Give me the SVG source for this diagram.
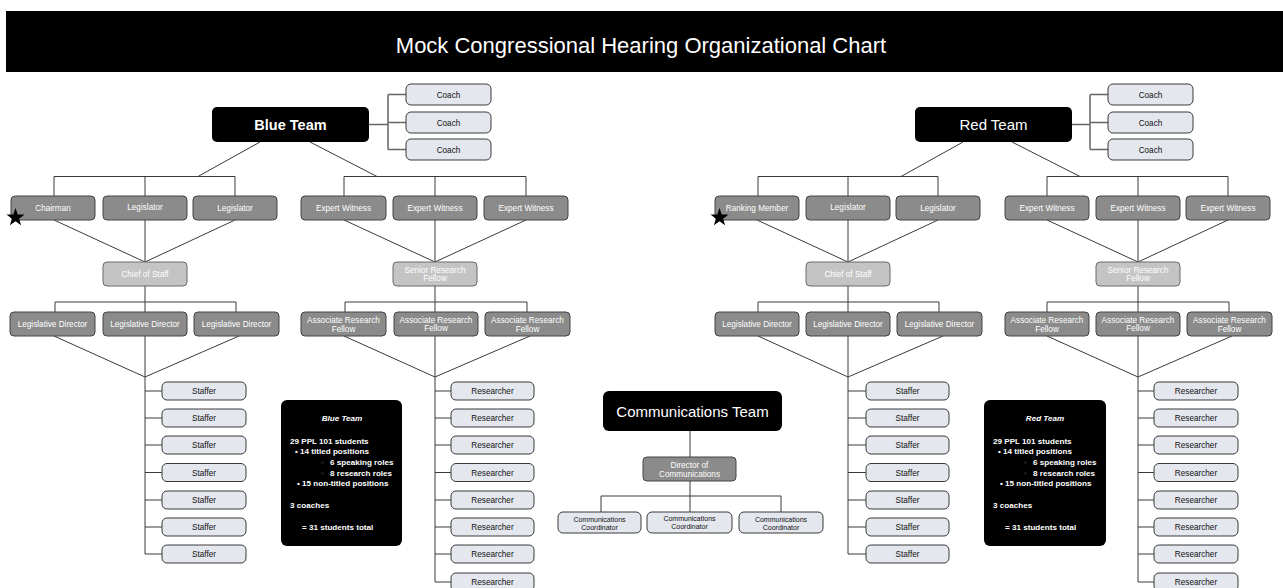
<svg xmlns="http://www.w3.org/2000/svg" xmlns:xlink="http://www.w3.org/1999/xlink" width="1283" height="588" viewBox="0 0 1283 588">
<defs>
<style>
.t{font-family:"Liberation Sans",Arial,sans-serif;font-size:8.2px;text-anchor:middle}
.s{font-family:"Liberation Sans",Arial,sans-serif;font-size:7px;text-anchor:middle;fill:#111}
.w{fill:#fff}
.k{fill:#111}
.dk{fill:#8b8b8b;stroke:#454545;stroke-width:1}
.lt{fill:#c4c4c4;stroke:#6a6a6a;stroke-width:1}
.pl{fill:#e4e7ee;stroke:#3a3a3a;stroke-width:1}
.bk{fill:#000}
.ln{stroke:#3a3a3a;stroke-width:1;fill:none}
.br{stroke:#666;stroke-width:1.5;fill:none}
.it{font-family:"Liberation Sans",Arial,sans-serif;font-size:8.1px;font-weight:bold;fill:#fff}
</style>
<polygon id="star" points="0,-9.5 2.23,-3.07 9.03,-2.94 3.61,1.17 5.59,7.69 0,3.8 -5.59,7.69 -3.61,1.17 -9.03,-2.94 -2.23,-3.07" fill="#000"/>
</defs>
<rect width="1283" height="588" fill="#fff"/>
<g id="title">
<rect x="6" y="11" width="1277" height="61" fill="#000"/>
<text x="641" y="52.5" font-family="Liberation Sans, Arial, sans-serif" font-size="22" fill="#fff" text-anchor="middle">Mock Congressional Hearing Organizational Chart</text>
</g>

<g id="connectors">
<path class="br" d="M369,124.5H388M388,94.5V149.5M388,94.5H406M388,122.5H406M388,149.5H406"/>
<path class="ln" d="M260,142L198,176.5M310,142L377,176.5"/>
<path class="ln" d="M54,176.5H235M54,176.5V196M145,176.5V196M235,176.5V196"/>
<path class="ln" d="M344,176.5H526M344,176.5V196M435,176.5V196M526,176.5V196"/>
<path class="ln" d="M54,220L145,262M145,220V262M235,220L145,262"/>
<path class="ln" d="M344,220L435,262M435,220V262M526,220L435,262"/>
<path class="ln" d="M145,286V302M55,302H236M55,302V312M145,302V312M236,302V312"/>
<path class="ln" d="M435,286V302M345,302H527M345,302V312M435,302V312M527,302V312"/>
<path class="ln" d="M54,336L145,377M239,336L145,377M145,336V554"/>
<path class="ln" d="M344,336L435,377M530,336L435,377M435,336V582"/>
<path class="ln" d="M145,391H162M145,418H162M145,445H162M145,472.5H162M145,500H162M145,527H162M145,554H162"/>
<path class="ln" d="M435,391H451M435,418H451M435,445H451M435,472.5H451M435,500H451M435,527H451M435,554H451M435,582H451"/>
<path class="ln" d="M690,431V457M690,481V496M601,496H781M601,496V512M690,496V512M781,496V512"/>
<path class="br" d="M1072,124.5H1090M1090,94.5V149.5M1090,94.5H1108M1090,122.5H1108M1090,149.5H1108"/>
<path class="ln" d="M963,142L901,176.5M1012,142L1080,176.5"/>
<path class="ln" d="M758,176.5H938M758,176.5V196M848,176.5V196M938,176.5V196"/>
<path class="ln" d="M1047,176.5H1228M1047,176.5V196M1138,176.5V196M1228,176.5V196"/>
<path class="ln" d="M757,220L848,262M848,220V262M938,220L848,262"/>
<path class="ln" d="M1047,220L1138,262M1138,220V262M1228,220L1138,262"/>
<path class="ln" d="M848,286V302M758,302H939M758,302V312M848,302V312M939,302V312"/>
<path class="ln" d="M1138,286V302M1047,302H1229M1047,302V312M1138,302V312M1229,302V312"/>
<path class="ln" d="M758,336L848,377M943,336L848,377M848,336V554"/>
<path class="ln" d="M1047,336L1138,377M1232,336L1138,377M1138,336V582"/>
<path class="ln" d="M848,391H866M848,418H866M848,445H866M848,472.5H866M848,500H866M848,527H866M848,554H866"/>
<path class="ln" d="M1138,391H1154M1138,418H1154M1138,445H1154M1138,472.5H1154M1138,500H1154M1138,527H1154M1138,554H1154M1138,582H1154"/>
</g>

<g id="blue-team"><rect class="bk" x="212" y="107" width="157" height="35" rx="5"/><text x="290.5" y="129.5" font-family="Liberation Sans, Arial, sans-serif" font-size="14.5" font-weight="bold" fill="#fff" text-anchor="middle">Blue Team</text></g>
<g id="blue-coach-1"><rect class="pl" x="406" y="84" width="85" height="21" rx="5"/><text class="t k" x="448.5" y="97.5">Coach</text></g>
<g id="blue-coach-2"><rect class="pl" x="406" y="112" width="85" height="21" rx="5"/><text class="t k" x="448.5" y="125.5">Coach</text></g>
<g id="blue-coach-3"><rect class="pl" x="406" y="139" width="85" height="21" rx="5"/><text class="t k" x="448.5" y="152.5">Coach</text></g>

<g id="blue-chairman"><rect class="dk" x="11" y="196" width="84" height="24" rx="4"/><text class="t w" x="53" y="211">Chairman</text><use xlink:href="#star" x="15.5" y="217.5"/></g>
<g id="blue-legislator-1"><rect class="dk" x="103" y="196" width="84" height="24" rx="4"/><text class="t w" x="145" y="210">Legislator</text></g>
<g id="blue-legislator-2"><rect class="dk" x="193" y="196" width="84" height="24" rx="4"/><text class="t w" x="235" y="210.5">Legislator</text></g>
<g id="blue-expert-1"><rect class="dk" x="301" y="196" width="85" height="24" rx="4"/><text class="t w" x="343.5" y="211">Expert Witness</text></g>
<g id="blue-expert-2"><rect class="dk" x="393" y="196" width="84" height="24" rx="4"/><text class="t w" x="435" y="210.5">Expert Witness</text></g>
<g id="blue-expert-3"><rect class="dk" x="484" y="196" width="84" height="24" rx="4"/><text class="t w" x="526" y="211">Expert Witness</text></g>

<g id="blue-chief-of-staff"><rect class="lt" x="103" y="262" width="84" height="24" rx="4"/><text class="t w" x="145" y="277">Chief of Staff</text></g>
<g id="blue-senior-fellow"><rect class="lt" x="393" y="262" width="84" height="24" rx="4"/><text class="t w" x="435" y="272.5">Senior Research</text><text class="t w" x="435" y="281">Fellow</text></g>

<g id="blue-ld-1"><rect class="dk" x="10" y="312" width="85" height="24" rx="4"/><text class="t w" x="52.5" y="327">Legislative Director</text></g>
<g id="blue-ld-2"><rect class="dk" x="103" y="312" width="84" height="24" rx="4"/><text class="t w" x="145" y="327">Legislative Director</text></g>
<g id="blue-ld-3"><rect class="dk" x="194" y="312" width="85" height="24" rx="4"/><text class="t w" x="236.5" y="327">Legislative Director</text></g>
<g id="blue-arf-1"><rect class="dk" x="301" y="312" width="85" height="24" rx="4"/><text class="t w" x="343.5" y="323">Associate Research</text><text class="t w" x="343.5" y="331.5">Fellow</text></g>
<g id="blue-arf-2"><rect class="dk" x="394" y="312" width="84" height="24" rx="4"/><text class="t w" x="436" y="322.5">Associate Research</text><text class="t w" x="436" y="331">Fellow</text></g>
<g id="blue-arf-3"><rect class="dk" x="485" y="312" width="85" height="24" rx="4"/><text class="t w" x="527.5" y="323">Associate Research</text><text class="t w" x="527.5" y="331.5">Fellow</text></g>

<g id="blue-staffer-1"><rect class="pl" x="162" y="382" width="84" height="18" rx="5"/><text class="t k" x="204" y="394">Staffer</text></g>
<g id="blue-staffer-2"><rect class="pl" x="162" y="409" width="84" height="18" rx="5"/><text class="t k" x="204" y="421">Staffer</text></g>
<g id="blue-staffer-3"><rect class="pl" x="162" y="436" width="84" height="18" rx="5"/><text class="t k" x="204" y="448">Staffer</text></g>
<g id="blue-staffer-4"><rect class="pl" x="162" y="463.5" width="84" height="18" rx="5"/><text class="t k" x="204" y="475.5">Staffer</text></g>
<g id="blue-staffer-5"><rect class="pl" x="162" y="491" width="84" height="18" rx="5"/><text class="t k" x="204" y="503">Staffer</text></g>
<g id="blue-staffer-6"><rect class="pl" x="162" y="518" width="84" height="18" rx="5"/><text class="t k" x="204" y="530">Staffer</text></g>
<g id="blue-staffer-7"><rect class="pl" x="162" y="545" width="84" height="18" rx="5"/><text class="t k" x="204" y="557">Staffer</text></g>

<g id="blue-researcher-1"><rect class="pl" x="451" y="382" width="83" height="18" rx="5"/><text class="t k" x="492.5" y="394">Researcher</text></g>
<g id="blue-researcher-2"><rect class="pl" x="451" y="409" width="83" height="18" rx="5"/><text class="t k" x="492.5" y="421">Researcher</text></g>
<g id="blue-researcher-3"><rect class="pl" x="451" y="436" width="83" height="18" rx="5"/><text class="t k" x="492.5" y="448">Researcher</text></g>
<g id="blue-researcher-4"><rect class="pl" x="451" y="463.5" width="83" height="18" rx="5"/><text class="t k" x="492.5" y="475.5">Researcher</text></g>
<g id="blue-researcher-5"><rect class="pl" x="451" y="491" width="83" height="18" rx="5"/><text class="t k" x="492.5" y="503">Researcher</text></g>
<g id="blue-researcher-6"><rect class="pl" x="451" y="518" width="83" height="18" rx="5"/><text class="t k" x="492.5" y="530">Researcher</text></g>
<g id="blue-researcher-7"><rect class="pl" x="451" y="545" width="83" height="18" rx="5"/><text class="t k" x="492.5" y="557">Researcher</text></g>
<g id="blue-researcher-8"><rect class="pl" x="451" y="573" width="83" height="18" rx="5"/><text class="t k" x="492.5" y="585">Researcher</text></g>

<g id="blue-info">
<rect class="bk" x="281" y="400" width="121" height="146" rx="6"/>
<text class="it" x="342" y="421" text-anchor="middle" font-style="italic">Blue Team</text>
<text class="it" x="290" y="444">29 PPL 101 students</text>
<text class="it" x="295" y="454">• 14 titled positions</text>
<text class="it" y="465"><tspan x="321" fill="#777">◦</tspan><tspan x="330">6 speaking roles</tspan></text>
<text class="it" y="476"><tspan x="321" fill="#777">◦</tspan><tspan x="330">8 research roles</tspan></text>
<text class="it" x="297" y="486">• 15 non-titled positions</text>
<text class="it" x="290" y="508">3 coaches</text>
<text class="it" x="302" y="530">= 31 students total</text>
</g>

<g id="comms-team"><rect class="bk" x="603" y="391" width="179" height="40" rx="6"/><text x="692.5" y="417" font-family="Liberation Sans, Arial, sans-serif" font-size="15" fill="#fff" text-anchor="middle">Communications Team</text></g>
<g id="comms-director"><rect class="dk" x="643" y="457" width="93" height="24" rx="4"/><text class="t w" x="689.5" y="467.5">Director of</text><text class="t w" x="689.5" y="477">Communications</text></g>
<g id="comms-coord-1"><rect class="pl" x="558" y="512" width="83" height="21" rx="5"/><text class="s" x="599.5" y="521.5">Communications</text><text class="s" x="599.5" y="529.5">Coordinator</text></g>
<g id="comms-coord-2"><rect class="pl" x="647" y="512" width="85" height="21" rx="5"/><text class="s" x="689.5" y="520.5">Communications</text><text class="s" x="689.5" y="528.5">Coordinator</text></g>
<g id="comms-coord-3"><rect class="pl" x="739" y="512" width="84" height="21" rx="5"/><text class="s" x="781" y="521.5">Communications</text><text class="s" x="781" y="529.5">Coordinator</text></g>

<g id="red-team"><rect class="bk" x="915" y="107" width="157" height="35" rx="5"/><text x="993.5" y="130" font-family="Liberation Sans, Arial, sans-serif" font-size="15" fill="#fff" text-anchor="middle">Red Team</text></g>
<g id="red-coach-1"><rect class="pl" x="1108" y="84" width="85" height="21" rx="5"/><text class="t k" x="1150.5" y="97.5">Coach</text></g>
<g id="red-coach-2"><rect class="pl" x="1108" y="112" width="85" height="21" rx="5"/><text class="t k" x="1150.5" y="125.5">Coach</text></g>
<g id="red-coach-3"><rect class="pl" x="1108" y="139" width="85" height="21" rx="5"/><text class="t k" x="1150.5" y="152.5">Coach</text></g>

<g id="red-ranking-member"><rect class="dk" x="715" y="196" width="84" height="24" rx="4"/><text class="t w" x="757" y="211">Ranking Member</text><use xlink:href="#star" x="719.5" y="217.5"/></g>
<g id="red-legislator-1"><rect class="dk" x="806" y="196" width="84" height="24" rx="4"/><text class="t w" x="848" y="210">Legislator</text></g>
<g id="red-legislator-2"><rect class="dk" x="896" y="196" width="84" height="24" rx="4"/><text class="t w" x="938" y="210.5">Legislator</text></g>
<g id="red-expert-1"><rect class="dk" x="1005" y="196" width="84" height="24" rx="4"/><text class="t w" x="1047" y="211">Expert Witness</text></g>
<g id="red-expert-2"><rect class="dk" x="1096" y="196" width="84" height="24" rx="4"/><text class="t w" x="1138" y="211">Expert Witness</text></g>
<g id="red-expert-3"><rect class="dk" x="1186" y="196" width="84" height="24" rx="4"/><text class="t w" x="1228" y="211">Expert Witness</text></g>

<g id="red-chief-of-staff"><rect class="lt" x="806" y="262" width="84" height="24" rx="4"/><text class="t w" x="848" y="277">Chief of Staff</text></g>
<g id="red-senior-fellow"><rect class="lt" x="1096" y="262" width="84" height="24" rx="4"/><text class="t w" x="1138" y="272.5">Senior Research</text><text class="t w" x="1138" y="281">Fellow</text></g>

<g id="red-ld-1"><rect class="dk" x="715" y="312" width="84" height="24" rx="4"/><text class="t w" x="757" y="326.5">Legislative Director</text></g>
<g id="red-ld-2"><rect class="dk" x="806" y="312" width="84" height="24" rx="4"/><text class="t w" x="848" y="327">Legislative Director</text></g>
<g id="red-ld-3"><rect class="dk" x="897" y="312" width="85" height="24" rx="4"/><text class="t w" x="939.5" y="327">Legislative Director</text></g>
<g id="red-arf-1"><rect class="dk" x="1005" y="312" width="84" height="24" rx="4"/><text class="t w" x="1047" y="323">Associate Research</text><text class="t w" x="1047" y="331.5">Fellow</text></g>
<g id="red-arf-2"><rect class="dk" x="1096" y="312" width="84" height="24" rx="4"/><text class="t w" x="1138" y="322.5">Associate Research</text><text class="t w" x="1138" y="331">Fellow</text></g>
<g id="red-arf-3"><rect class="dk" x="1187" y="312" width="85" height="24" rx="4"/><text class="t w" x="1229.5" y="323">Associate Research</text><text class="t w" x="1229.5" y="331.5">Fellow</text></g>

<g id="red-staffer-1"><rect class="pl" x="866" y="382" width="83" height="18" rx="5"/><text class="t k" x="907.5" y="394">Staffer</text></g>
<g id="red-staffer-2"><rect class="pl" x="866" y="409" width="83" height="18" rx="5"/><text class="t k" x="907.5" y="421">Staffer</text></g>
<g id="red-staffer-3"><rect class="pl" x="866" y="436" width="83" height="18" rx="5"/><text class="t k" x="907.5" y="448">Staffer</text></g>
<g id="red-staffer-4"><rect class="pl" x="866" y="463.5" width="83" height="18" rx="5"/><text class="t k" x="907.5" y="475.5">Staffer</text></g>
<g id="red-staffer-5"><rect class="pl" x="866" y="491" width="83" height="18" rx="5"/><text class="t k" x="907.5" y="503">Staffer</text></g>
<g id="red-staffer-6"><rect class="pl" x="866" y="518" width="83" height="18" rx="5"/><text class="t k" x="907.5" y="530">Staffer</text></g>
<g id="red-staffer-7"><rect class="pl" x="866" y="545" width="83" height="18" rx="5"/><text class="t k" x="907.5" y="557">Staffer</text></g>

<g id="red-researcher-1"><rect class="pl" x="1154" y="382" width="84" height="18" rx="5"/><text class="t k" x="1196" y="394">Researcher</text></g>
<g id="red-researcher-2"><rect class="pl" x="1154" y="409" width="84" height="18" rx="5"/><text class="t k" x="1196" y="421">Researcher</text></g>
<g id="red-researcher-3"><rect class="pl" x="1154" y="436" width="84" height="18" rx="5"/><text class="t k" x="1196" y="448">Researcher</text></g>
<g id="red-researcher-4"><rect class="pl" x="1154" y="463.5" width="84" height="18" rx="5"/><text class="t k" x="1196" y="475.5">Researcher</text></g>
<g id="red-researcher-5"><rect class="pl" x="1154" y="491" width="84" height="18" rx="5"/><text class="t k" x="1196" y="503">Researcher</text></g>
<g id="red-researcher-6"><rect class="pl" x="1154" y="518" width="84" height="18" rx="5"/><text class="t k" x="1196" y="530">Researcher</text></g>
<g id="red-researcher-7"><rect class="pl" x="1154" y="545" width="84" height="18" rx="5"/><text class="t k" x="1196" y="557">Researcher</text></g>
<g id="red-researcher-8"><rect class="pl" x="1154" y="573" width="84" height="18" rx="5"/><text class="t k" x="1196" y="585">Researcher</text></g>

<g id="red-info">
<rect class="bk" x="984" y="400" width="122" height="146" rx="6"/>
<text class="it" x="1045" y="421" text-anchor="middle" font-style="italic">Red Team</text>
<text class="it" x="993" y="444">29 PPL 101 students</text>
<text class="it" x="998" y="454">• 14 titled positions</text>
<text class="it" y="465"><tspan x="1024" fill="#777">◦</tspan><tspan x="1033">6 speaking roles</tspan></text>
<text class="it" y="476"><tspan x="1024" fill="#777">◦</tspan><tspan x="1033">8 research roles</tspan></text>
<text class="it" x="1000" y="486">• 15 non-titled positions</text>
<text class="it" x="993" y="508">3 coaches</text>
<text class="it" x="1005" y="530">= 31 students total</text>
</g>
</svg>
